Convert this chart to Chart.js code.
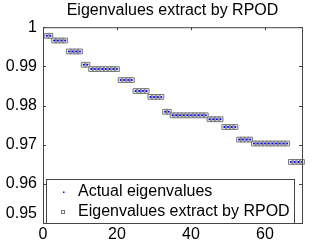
<!DOCTYPE html>
<html>
<head>
<meta charset="utf-8">
<script src="https://cdn.jsdelivr.net/npm/chart.js@4"></script>
<style>
  html, body { margin: 0; padding: 0; background: #fff; }
  #wrap { width: 332px; height: 250px; }
</style>
</head>
<body>
<div id="wrap"><canvas id="eigChart"></canvas></div>
<script>
const eigIndex = [
  1, 2, 3, 4, 5, 6, 7, 8, 9, 10, 11, 12, 13, 14, 15, 16, 17, 18, 19, 20,
  21, 22, 23, 24, 25, 26, 27, 28, 29, 30, 31, 32, 33, 34, 35, 36, 37, 38, 39, 40,
  41, 42, 43, 44, 45, 46, 47, 48, 49, 50, 51, 52, 53, 54, 55, 56, 57, 58, 59, 60,
  61, 62, 63, 64, 65, 66, 67, 68, 69, 70
]

const actualValues = [
  0.9978, 0.9978, 0.9966, 0.9966, 0.9966, 0.9966, 0.9938, 0.9938, 0.9938, 0.9938,
  0.9904, 0.9904, 0.9893, 0.9893, 0.9893, 0.9893, 0.9893, 0.9893, 0.9893, 0.9893,
  0.9865, 0.9865, 0.9865, 0.9865, 0.9837, 0.9837, 0.9837, 0.9837, 0.9822, 0.9822,
  0.9822, 0.9822, 0.9784, 0.9784, 0.9775, 0.9775, 0.9775, 0.9775, 0.9775, 0.9775,
  0.9775, 0.9775, 0.9775, 0.9775, 0.9765, 0.9765, 0.9765, 0.9765, 0.9745, 0.9745,
  0.9745, 0.9745, 0.9713, 0.9713, 0.9713, 0.9713, 0.9703, 0.9703, 0.9703, 0.9703,
  0.9703, 0.9703, 0.9703, 0.9703, 0.9703, 0.9703, 0.9656, 0.9656, 0.9656, 0.9656
]

const rpodValues = [
  0.9978, 0.9978, 0.9966, 0.9966, 0.9966, 0.9966, 0.9938, 0.9938, 0.9938, 0.9938,
  0.9904, 0.9904, 0.9893, 0.9893, 0.9893, 0.9893, 0.9893, 0.9893, 0.9893, 0.9893,
  0.9865, 0.9865, 0.9865, 0.9865, 0.9837, 0.9837, 0.9837, 0.9837, 0.9822, 0.9822,
  0.9822, 0.9822, 0.9784, 0.9784, 0.9775, 0.9775, 0.9775, 0.9775, 0.9775, 0.9775,
  0.9775, 0.9775, 0.9775, 0.9775, 0.9765, 0.9765, 0.9765, 0.9765, 0.9745, 0.9745,
  0.9745, 0.9745, 0.9713, 0.9713, 0.9713, 0.9713, 0.9703, 0.9703, 0.9703, 0.9703,
  0.9703, 0.9703, 0.9703, 0.9703, 0.9703, 0.9703, 0.9656, 0.9656, 0.9656, 0.9656
]

const xTicks = [0, 20, 40, 60]
const yTicks = [0.95, 0.96, 0.97, 0.98, 0.99, 1]

const FONT = 'Liberation Sans, Arial, sans-serif'
const AXIS_COLOR = '#444'

function toPoints(values) {
  return values.map((v, i) => ({ x: eigIndex[i], y: v }))
}

// box with inward ticks on all four sides, like the original
const axisBox = {
  id: 'axisBox',
  afterDatasetsDraw(chart) {
    const { ctx, chartArea: a, scales } = chart
    ctx.save()
    ctx.strokeStyle = AXIS_COLOR
    ctx.lineWidth = 1
    ctx.strokeRect(a.left + 0.5, a.top + 0.5, a.right - a.left, a.bottom - a.top)
    ctx.beginPath()
    for (const t of xTicks) {
      const px = Math.round(scales.x.getPixelForValue(t)) + 0.5
      ctx.moveTo(px, a.bottom); ctx.lineTo(px, a.bottom - 3)
      ctx.moveTo(px, a.top); ctx.lineTo(px, a.top + 3)
    }
    for (const t of yTicks) {
      const py = Math.round(scales.y.getPixelForValue(t)) + 0.5
      ctx.moveTo(a.left, py); ctx.lineTo(a.left + 3, py)
      ctx.moveTo(a.right, py); ctx.lineTo(a.right - 3, py)
    }
    ctx.stroke()
    ctx.restore()
  }
}

// legend box inside the bottom of the plot
const boxLegend = {
  id: 'boxLegend',
  afterDraw(chart) {
    const { ctx, chartArea: a } = chart
    const left = a.left + 3
    const right = a.right - 8
    const top = a.bottom - 44
    const bottom = a.bottom
    ctx.save()
    ctx.fillStyle = '#fff'
    ctx.fillRect(left, top, right - left, bottom - top)
    ctx.strokeStyle = AXIS_COLOR
    ctx.lineWidth = 1
    ctx.strokeRect(left + 0.5, top + 0.5, right - left, bottom - top)
    ctx.font = '16px ' + FONT
    ctx.textBaseline = 'middle'
    ctx.fillStyle = '#000'
    const ds = chart.data.datasets
    const y1 = top + 13
    const y2 = top + 33
    // Actual eigenvalues
    ctx.fillStyle = '#0000ff'
    ctx.fillRect(left + 17, y1 - 0.5, 1.5, 1.5)
    ctx.fillStyle = '#000'
    ctx.fillText(ds[1].label, left + 32, y1)
    // RPOD
    ctx.strokeStyle = '#777'
    ctx.strokeRect(left + 15.5, y2 - 1.5, 3, 3)
    ctx.fillText(ds[0].label, left + 32, y2)
    ctx.restore()
  }
}

new Chart(document.querySelector('#eigChart'), {
  type: 'scatter',
  data: {
    datasets: [
      {
        label: 'Eigenvalues extract by RPOD',
        data: toPoints(rpodValues),
        pointStyle: 'rect',
        pointRadius: 3.4,
        borderColor: '#7a7a7a',
        borderWidth: 1,
        backgroundColor: 'rgba(200,200,200,0.35)',
        order: 2
      },
      {
        label: 'Actual eigenvalues',
        data: toPoints(actualValues),
        pointStyle: 'circle',
        pointRadius: 1,
        borderWidth: 0,
        backgroundColor: '#0000ff',
        order: 1
      }
    ]
  },
  options: {
    responsive: true,
    maintainAspectRatio: false,
    animation: false,
    clip: false,
    layout: {
      padding: { left: 0, right: 30, top: 0, bottom: 0 }
    },
    plugins: {
      legend: { display: false },
      tooltip: { enabled: false },
      title: {
        display: true,
        text: 'Eigenvalues extract by RPOD',
        color: '#000',
        fullSize: false,
        font: { family: FONT, size: 16, weight: 'normal', lineHeight: 1.2 },
        padding: { top: 1, bottom: 7 }
      }
    },
    scales: {
      x: {
        type: 'linear',
        min: 0,
        max: 70,
        grid: { display: false, drawTicks: false },
        border: { display: false },
        afterFit(scale) { scale.height = 27 },
        afterBuildTicks(scale) { scale.ticks = xTicks.map(v => ({ value: v })) },
        ticks: {
          color: '#000',
          padding: 2,
          maxRotation: 0,
          autoSkip: false,
          font: { family: FONT, size: 16 }
        }
      },
      y: {
        type: 'linear',
        min: 0.95,
        max: 1,
        grid: { display: false, drawTicks: false },
        border: { display: false },
        afterFit(scale) { scale.width = 43 },
        afterBuildTicks(scale) { scale.ticks = yTicks.map(v => ({ value: v })) },
        ticks: {
          color: '#000',
          padding: 6,
          autoSkip: false,
          font: { family: FONT, size: 16 },
          callback(value) {
            const txt = String(Math.round(value * 100) / 100)
            return value === 0.95 ? [txt, ''] : txt
          }
        }
      }
    }
  },
  plugins: [axisBox, boxLegend]
})
</script>
</body>
</html>
